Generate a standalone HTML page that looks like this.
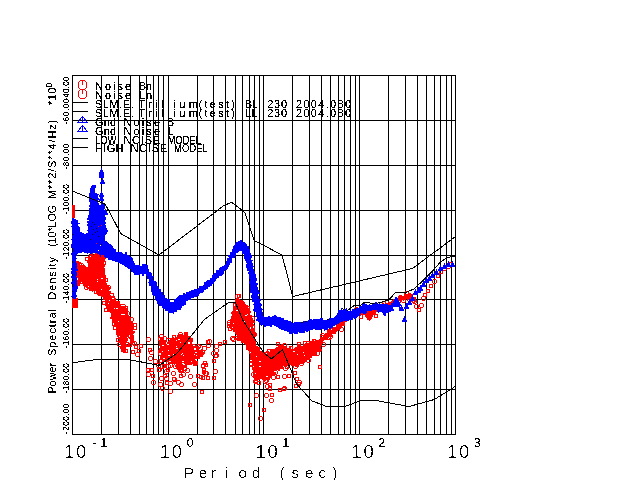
<!DOCTYPE html>
<html><head><meta charset="utf-8"><title>Power Spectral Density</title>
<style>html,body{margin:0;padding:0;background:#fff;overflow:hidden}svg{display:block}text{font-family:"Liberation Sans",sans-serif;fill:#000}</style></head><body>
<svg width="640" height="480" viewBox="0 0 640 480">
<rect width="640" height="480" fill="#fff"/>
<g stroke="#000" stroke-width="1" shape-rendering="crispEdges" fill="none">
<line x1="72.5" y1="75.5" x2="72.5" y2="434.5"/>
<line x1="101.5" y1="75.5" x2="101.5" y2="434.5"/>
<line x1="118.5" y1="75.5" x2="118.5" y2="434.5"/>
<line x1="130.5" y1="75.5" x2="130.5" y2="434.5"/>
<line x1="139.5" y1="75.5" x2="139.5" y2="434.5"/>
<line x1="146.5" y1="75.5" x2="146.5" y2="434.5"/>
<line x1="153.5" y1="75.5" x2="153.5" y2="434.5"/>
<line x1="158.5" y1="75.5" x2="158.5" y2="434.5"/>
<line x1="163.5" y1="75.5" x2="163.5" y2="434.5"/>
<line x1="168.5" y1="75.5" x2="168.5" y2="434.5"/>
<line x1="197.5" y1="75.5" x2="197.5" y2="434.5"/>
<line x1="213.5" y1="75.5" x2="213.5" y2="434.5"/>
<line x1="225.5" y1="75.5" x2="225.5" y2="434.5"/>
<line x1="235.5" y1="75.5" x2="235.5" y2="434.5"/>
<line x1="242.5" y1="75.5" x2="242.5" y2="434.5"/>
<line x1="249.5" y1="75.5" x2="249.5" y2="434.5"/>
<line x1="254.5" y1="75.5" x2="254.5" y2="434.5"/>
<line x1="259.5" y1="75.5" x2="259.5" y2="434.5"/>
<line x1="263.5" y1="75.5" x2="263.5" y2="434.5"/>
<line x1="292.5" y1="75.5" x2="292.5" y2="434.5"/>
<line x1="309.5" y1="75.5" x2="309.5" y2="434.5"/>
<line x1="321.5" y1="75.5" x2="321.5" y2="434.5"/>
<line x1="330.5" y1="75.5" x2="330.5" y2="434.5"/>
<line x1="338.5" y1="75.5" x2="338.5" y2="434.5"/>
<line x1="344.5" y1="75.5" x2="344.5" y2="434.5"/>
<line x1="350.5" y1="75.5" x2="350.5" y2="434.5"/>
<line x1="355.5" y1="75.5" x2="355.5" y2="434.5"/>
<line x1="359.5" y1="75.5" x2="359.5" y2="434.5"/>
<line x1="388.5" y1="75.5" x2="388.5" y2="434.5"/>
<line x1="405.5" y1="75.5" x2="405.5" y2="434.5"/>
<line x1="417.5" y1="75.5" x2="417.5" y2="434.5"/>
<line x1="426.5" y1="75.5" x2="426.5" y2="434.5"/>
<line x1="434.5" y1="75.5" x2="434.5" y2="434.5"/>
<line x1="440.5" y1="75.5" x2="440.5" y2="434.5"/>
<line x1="446.5" y1="75.5" x2="446.5" y2="434.5"/>
<line x1="451.5" y1="75.5" x2="451.5" y2="434.5"/>
<line x1="455.5" y1="75.5" x2="455.5" y2="434.5"/>
<line x1="72.0" y1="434.5" x2="456.0" y2="434.5"/>
<line x1="72.0" y1="389.5" x2="456.0" y2="389.5"/>
<line x1="72.0" y1="344.5" x2="456.0" y2="344.5"/>
<line x1="72.0" y1="299.5" x2="456.0" y2="299.5"/>
<line x1="72.0" y1="255.5" x2="456.0" y2="255.5"/>
<line x1="72.0" y1="210.5" x2="456.0" y2="210.5"/>
<line x1="72.0" y1="165.5" x2="456.0" y2="165.5"/>
<line x1="72.0" y1="120.5" x2="456.0" y2="120.5"/>
<line x1="72.0" y1="75.5" x2="456.0" y2="75.5"/>
</g>
<g shape-rendering="crispEdges">
<polyline points="300,323 310,321 318,320 323.8,321 330,319 337.5,317 342,308.8 347.5,310.6 355,305 360,305.6 365,302 375,304 388.8,300 395,293 406,292.5 413.8,289 422.5,281 432.5,271 440,262.5 445,258.8 450,257 455.5,256" fill="none" stroke="#000" stroke-width="1"/>
<polygon points="72,205 75,205 75,218 72,218" fill="#f00"/>
<polygon points="72,298 77.5,298 77.5,308 72,308" fill="#f00"/>
<polygon points="76,263 78,263 78,262 81,262 81,263 81,263 81,264 82,264 82,266 84,266 84,266 85,266 85,267 87,267 87,267 88,267 88,265 88,265 88,263 87,263 87,261 88,261 88,260 89,260 89,258 88,258 88,256 89,256 89,254 90,254 90,251 92,251 92,252 94,252 94,252 95,252 95,252 97,252 97,252 99,252 99,251 100,251 100,251 102,251 102,252 103,252 103,252 104,252 104,254 105,254 105,255 104,255 104,257 106,257 106,259 105,259 105,260 105,260 105,262 104,262 104,264 106,264 106,265 105,265 105,267 104,267 104,268 105,268 105,270 105,270 105,272 105,272 105,273 105,273 105,275 106,275 106,277 106,277 106,279 106,279 106,281 106,281 106,283 107,283 107,284 107,284 107,286 109,286 109,287 110,287 110,289 109,289 109,291 111,291 111,292 111,292 111,294 111,294 111,296 114,296 114,296 115,296 115,298 116,298 116,299 116,299 116,301 118,301 118,301 120,301 120,302 120,302 120,304 122,304 122,305 123,305 123,306 124,306 124,307 125,307 125,308 127,308 127,309 128,309 128,310 128,310 128,312 128,312 128,314 128,314 128,316 130,316 130,317 131,317 131,319 131,319 131,322 133,322 133,323 133,323 133,325 133,325 133,326 133,326 133,328 133,328 133,330 133,330 133,331 135,331 135,333 134,333 134,335 134,335 134,337 134,337 134,338 134,338 134,340 134,340 134,342 134,342 134,343 131,343 131,344 130,344 130,342 130,342 130,341 130,341 130,339 129,339 129,337 130,337 130,336 130,336 130,335 128,335 128,334 128,334 128,336 128,336 128,337 127,337 127,339 128,339 128,341 127,341 127,342 126,342 126,344 127,344 127,345 128,345 128,347 126,347 126,349 126,349 126,350 126,350 126,353 125,353 125,353 123,353 123,352 122,352 122,352 121,352 121,350 121,350 121,349 120,349 120,347 121,347 121,345 120,345 120,343 119,343 119,342 120,342 120,340 119,340 119,338 118,338 118,337 117,337 117,335 116,335 116,334 116,334 116,332 116,332 116,330 116,330 116,329 116,329 116,327 115,327 115,325 114,325 114,323 114,323 114,322 112,322 112,320 112,320 112,319 110,319 110,317 111,317 111,315 111,315 111,313 110,313 110,312 108,312 108,311 108,311 108,309 107,309 107,308 106,308 106,306 105,306 105,304 106,304 106,302 105,302 105,300 102,300 102,300 103,300 103,297 101,297 101,296 100,296 100,296 98,296 98,294 97,294 97,293 96,293 96,291 93,291 93,292 92,292 92,291 90,291 90,291 89,291 89,289 87,289 87,288 86,288 86,287 84,287 84,286 83,286 83,284 81,284 81,284 79,284 79,285 77,285 77,284 77,284 77,282 77,282 77,280 78,280 78,278 76,278 76,277 76,277 76,275 76,275 76,273 77,273 77,272 75,272 75,270 75,270 75,268 75,268 75,266 77,266 77,265" fill="#f00"/>
<polygon points="158,345 159,345 159,343 159,343 159,341 159,341 159,340 160,340 160,337 163,337 163,337 164,337 164,338 164,338 164,341 166,341 166,342 166,342 166,344 167,344 167,343 168,343 168,341 169,341 169,340 170,340 170,338 172,338 172,337 174,337 174,338 176,338 176,337 177,337 177,335 179,335 179,334 181,334 181,334 183,334 183,335 184,335 184,333 185,333 185,333 187,333 187,335 188,335 188,336 189,336 189,339 191,339 191,339 193,339 193,340 192,340 192,342 192,342 192,344 193,344 193,346 195,346 195,345 197,345 197,346 197,346 197,346 198,346 198,347 200,347 200,347 200,347 200,349 202,349 202,350 203,350 203,352 204,352 204,354 203,354 203,357 201,357 201,357 200,357 200,358 198,358 198,358 195,358 195,358 196,358 196,360 196,360 196,362 197,362 197,363 196,363 196,366 195,366 195,363 193,363 193,364 192,364 192,363 189,363 189,362 188,362 188,363 188,363 188,365 187,365 187,367 186,367 186,367 184,367 184,368 183,368 183,370 181,370 181,370 179,370 179,372 180,372 180,370 178,370 178,369 177,369 177,367 176,367 176,366 175,366 175,364 172,364 172,365 172,365 172,363 170,363 170,363 168,363 168,362 166,362 166,362 164,362 164,362 163,362 163,360 161,360 161,360 160,360 160,358 160,358 160,356 159,356 159,355 161,355 161,353 159,353 159,352 158,352 158,350 159,350 159,348 160,348 160,347" fill="#f00"/>
<polygon points="235,299 237,299 237,298 239,298 239,299 240,299 240,300 242,300 242,300 243,300 243,301 244,301 244,302 245,302 245,304 246,304 246,305 248,305 248,306 248,306 248,308 249,308 249,309 250,309 250,311 251,311 251,313 250,313 250,315 252,315 252,316 252,316 252,318 253,318 253,319 253,319 253,321 255,321 255,323 253,323 253,324 254,324 254,326 253,326 253,328 255,328 255,329 255,329 255,331 255,331 255,333 256,333 256,334 256,334 256,336 255,336 255,337 254,337 254,339 256,339 256,341 256,341 256,342 256,342 256,344 256,344 256,346 258,346 258,346 258,346 258,348 259,348 259,349 260,349 260,351 262,351 262,351 263,351 263,353 264,353 264,354 266,354 266,355 268,355 268,353 269,353 269,352 271,352 271,351 271,351 271,349 274,349 274,349 275,349 275,348 276,348 276,347 278,347 278,346 279,346 279,345 281,345 281,344 283,344 283,344 284,344 284,346 286,346 286,347 287,347 287,348 289,348 289,347 291,347 291,349 292,349 292,349 294,349 294,348 295,348 295,347 297,347 297,346 297,346 297,344 299,344 299,344 301,344 301,345 303,345 303,344 305,344 305,343 307,343 307,343 309,343 309,343 309,343 309,341 311,341 311,341 313,341 313,339 314,339 314,341 316,341 316,340 317,340 317,340 319,340 319,339 320,339 320,338 322,338 322,337 323,337 323,335 324,335 324,334 325,334 325,333 327,333 327,333 328,333 328,330 331,330 331,331 332,331 332,329 333,329 333,327 335,327 335,327 336,327 336,325 337,325 337,324 339,324 339,323 339,323 339,321 341,321 341,320 343,320 343,320 343,320 343,318 345,318 345,318 347,318 347,317 347,317 347,315 348,315 348,313 350,313 350,313 352,313 352,312 353,312 353,311 354,311 354,309 355,309 355,310 357,310 357,310 359,310 359,309 360,309 360,309 362,309 362,309 363,309 363,309 365,309 365,310 367,310 367,311 369,311 369,311 370,311 370,310 372,310 372,309 373,309 373,309 375,309 375,309 376,309 376,307 378,307 378,307 379,307 379,304 381,304 381,306 382,306 382,303 384,303 384,304 386,304 386,304 387,304 387,304 389,304 389,302 391,302 391,302 392,302 392,301 393,301 393,299 395,299 395,299 396,299 396,298 398,298 398,298 399,298 399,296 401,296 401,296 403,296 403,296 404,296 404,294 406,294 406,294 407,294 407,294 409,294 409,294 412,294 412,294 413,294 413,296 413,296 413,298 415,298 415,299 415,299 415,301 415,301 415,304 414,304 414,301 413,301 413,301 411,301 411,300 409,300 409,300 408,300 408,299 406,299 406,300 404,300 404,301 403,301 403,300 401,300 401,301 399,301 399,301 398,301 398,302 397,302 397,303 395,303 395,304 393,304 393,304 392,304 392,306 390,306 390,307 389,307 389,309 387,309 387,308 386,308 386,309 384,309 384,308 383,308 383,309 381,309 381,309 379,309 379,310 378,310 378,311 376,311 376,312 376,312 376,314 374,314 374,315 373,315 373,317 372,317 372,319 370,319 370,321 369,321 369,319 368,319 368,318 366,318 366,317 365,317 365,315 363,315 363,316 362,316 362,315 360,315 360,315 359,315 359,316 357,316 357,315 355,315 355,316 353,316 353,314 353,314 353,317 351,317 351,318 350,318 350,319 348,319 348,320 347,320 347,321 346,321 346,322 345,322 345,324 345,324 345,326 342,326 342,326 342,326 342,328 341,328 341,329 340,329 340,330 338,330 338,331 337,331 337,332 336,332 336,334 334,334 334,334 332,334 332,335 332,335 332,337 330,337 330,337 328,337 328,338 327,338 327,340 325,340 325,340 324,340 324,341 323,341 323,343 323,343 323,344 322,344 322,346 321,346 321,347 321,347 321,349 322,349 322,351 321,351 321,352 319,352 319,352 317,352 317,352 315,352 315,353 316,353 316,356 314,356 314,356 312,356 312,358 311,358 311,358 310,358 310,360 307,360 307,360 307,360 307,362 305,362 305,363 304,363 304,364 302,364 302,364 300,364 300,365 299,365 299,367 297,367 297,367 295,367 295,366 292,366 292,366 291,366 291,365 289,365 289,367 288,367 288,365 286,365 286,366 284,366 284,366 283,366 283,369 282,369 282,369 280,369 280,371 278,371 278,370 276,370 276,371 274,371 274,372 276,372 276,375 274,375 274,376 272,376 272,377 271,377 271,378 270,378 270,380 267,380 267,379 266,379 266,381 265,381 265,380 263,380 263,379 262,379 262,377 261,377 261,379 260,379 260,380 258,380 258,380 257,380 257,381 256,381 256,381 254,381 254,379 254,379 254,378 253,378 253,376 253,376 253,374 253,374 253,372 253,372 253,370 252,370 252,369 252,369 252,367 250,367 250,365 252,365 252,363 250,363 250,361 252,361 252,360 250,360 250,358 250,358 250,356 250,356 250,354 251,354 251,352 250,352 250,351 248,351 248,350 247,350 247,349 246,349 246,347 246,347 246,345 245,345 245,344 244,344 244,343 242,343 242,343 241,343 241,341 238,341 238,341 237,341 237,339 236,339 236,338 237,338 237,335 236,335 236,334 235,334 235,332 233,332 233,332 233,332 233,330 231,330 231,328 230,328 230,327 229,327 229,325 231,325 231,323 230,323 230,321 230,321 230,319 231,319 231,318 231,318 231,316 232,316 232,314 231,314 231,312 232,312 232,311 233,311 233,310 233,310 233,308 233,308 233,306 235,306 235,304 234,304 234,302 235,302 235,301" fill="#f00"/>
<path d="M76.5 262.5h3v3h-3zM79.5 265.5a2 2 0 1 0 4 0a2 2 0 1 0 -4 0zM81.5 267.5a2 2 0 1 0 4 0a2 2 0 1 0 -4 0zM85.5 257.5h3v3h-3zM88.5 258.5a2 2 0 1 0 4 0a2 2 0 1 0 -4 0zM90.5 253.5a2 2 0 1 0 4 0a2 2 0 1 0 -4 0zM100.5 251.5a2 2 0 1 0 4 0a2 2 0 1 0 -4 0zM102.5 249.5h3v3h-3zM102.5 261.5h3v3h-3zM104.5 278.5h3v3h-3zM106.5 287.5a2 2 0 1 0 4 0a2 2 0 1 0 -4 0zM110.5 293.5h3v3h-3zM121.5 306.5a2 2 0 1 0 4 0a2 2 0 1 0 -4 0zM124.5 306.5h3v3h-3zM125.5 313.5a2 2 0 1 0 4 0a2 2 0 1 0 -4 0zM129.5 319.5a2 2 0 1 0 4 0a2 2 0 1 0 -4 0zM133.5 323.5h3v3h-3zM133.5 326.5h3v3h-3zM132.5 343.5a2 2 0 1 0 4 0a2 2 0 1 0 -4 0zM131.5 341.5h3v3h-3zM128.5 343.5h3v3h-3zM125.5 333.5a2 2 0 1 0 4 0a2 2 0 1 0 -4 0zM124.5 336.5a2 2 0 1 0 4 0a2 2 0 1 0 -4 0zM125.5 344.5a2 2 0 1 0 4 0a2 2 0 1 0 -4 0zM124.5 349.5h3v3h-3zM117.5 344.5a2 2 0 1 0 4 0a2 2 0 1 0 -4 0zM116.5 338.5h3v3h-3zM113.5 326.5h3v3h-3zM112.5 322.5h3v3h-3zM104.5 308.5h3v3h-3zM102.5 301.5h3v3h-3zM97.5 291.5h3v3h-3zM94.5 290.5h3v3h-3zM84.5 287.5a2 2 0 1 0 4 0a2 2 0 1 0 -4 0zM76.5 282.5h3v3h-3zM73.5 273.5h3v3h-3zM75.5 263.5a2 2 0 1 0 4 0a2 2 0 1 0 -4 0zM158.5 337.5h3v3h-3zM159.5 336.5a2 2 0 1 0 4 0a2 2 0 1 0 -4 0zM162.5 338.5a2 2 0 1 0 4 0a2 2 0 1 0 -4 0zM166.5 340.5a2 2 0 1 0 4 0a2 2 0 1 0 -4 0zM172.5 335.5h3v3h-3zM178.5 334.5a2 2 0 1 0 4 0a2 2 0 1 0 -4 0zM184.5 332.5h3v3h-3zM187.5 336.5h3v3h-3zM189.5 338.5h3v3h-3zM191.5 346.5a2 2 0 1 0 4 0a2 2 0 1 0 -4 0zM196.5 346.5a2 2 0 1 0 4 0a2 2 0 1 0 -4 0zM198.5 347.5a2 2 0 1 0 4 0a2 2 0 1 0 -4 0zM200.5 352.5a2 2 0 1 0 4 0a2 2 0 1 0 -4 0zM196.5 355.5h3v3h-3zM194.5 361.5h3v3h-3zM188.5 361.5h3v3h-3zM188.5 360.5h3v3h-3zM183.5 367.5h3v3h-3zM177.5 366.5h3v3h-3zM173.5 366.5a2 2 0 1 0 4 0a2 2 0 1 0 -4 0zM166.5 361.5h3v3h-3zM159.5 359.5h3v3h-3zM158.5 353.5a2 2 0 1 0 4 0a2 2 0 1 0 -4 0zM235.5 296.5a2 2 0 1 0 4 0a2 2 0 1 0 -4 0zM237.5 294.5h3v3h-3zM246.5 306.5h3v3h-3zM250.5 318.5a2 2 0 1 0 4 0a2 2 0 1 0 -4 0zM251.5 325.5h3v3h-3zM252.5 334.5a2 2 0 1 0 4 0a2 2 0 1 0 -4 0zM256.5 347.5h3v3h-3zM263.5 354.5a2 2 0 1 0 4 0a2 2 0 1 0 -4 0zM265.5 353.5a2 2 0 1 0 4 0a2 2 0 1 0 -4 0zM267.5 349.5h3v3h-3zM276.5 342.5h3v3h-3zM282.5 345.5a2 2 0 1 0 4 0a2 2 0 1 0 -4 0zM289.5 346.5h3v3h-3zM297.5 342.5h3v3h-3zM303.5 341.5h3v3h-3zM306.5 343.5a2 2 0 1 0 4 0a2 2 0 1 0 -4 0zM312.5 339.5h3v3h-3zM320.5 337.5a2 2 0 1 0 4 0a2 2 0 1 0 -4 0zM320.5 335.5a2 2 0 1 0 4 0a2 2 0 1 0 -4 0zM327.5 331.5a2 2 0 1 0 4 0a2 2 0 1 0 -4 0zM330.5 330.5a2 2 0 1 0 4 0a2 2 0 1 0 -4 0zM343.5 319.5a2 2 0 1 0 4 0a2 2 0 1 0 -4 0zM347.5 314.5h3v3h-3zM354.5 309.5a2 2 0 1 0 4 0a2 2 0 1 0 -4 0zM367.5 311.5a2 2 0 1 0 4 0a2 2 0 1 0 -4 0zM370.5 310.5a2 2 0 1 0 4 0a2 2 0 1 0 -4 0zM379.5 304.5a2 2 0 1 0 4 0a2 2 0 1 0 -4 0zM385.5 300.5h3v3h-3zM391.5 302.5a2 2 0 1 0 4 0a2 2 0 1 0 -4 0zM398.5 297.5a2 2 0 1 0 4 0a2 2 0 1 0 -4 0zM404.5 293.5a2 2 0 1 0 4 0a2 2 0 1 0 -4 0zM407.5 295.5a2 2 0 1 0 4 0a2 2 0 1 0 -4 0zM412.5 297.5h3v3h-3zM412.5 301.5a2 2 0 1 0 4 0a2 2 0 1 0 -4 0zM411.5 300.5a2 2 0 1 0 4 0a2 2 0 1 0 -4 0zM407.5 299.5a2 2 0 1 0 4 0a2 2 0 1 0 -4 0zM401.5 300.5a2 2 0 1 0 4 0a2 2 0 1 0 -4 0zM396.5 301.5a2 2 0 1 0 4 0a2 2 0 1 0 -4 0zM387.5 306.5h3v3h-3zM382.5 309.5a2 2 0 1 0 4 0a2 2 0 1 0 -4 0zM376.5 308.5h3v3h-3zM374.5 314.5h3v3h-3zM367.5 316.5h3v3h-3zM359.5 315.5h3v3h-3zM347.5 316.5h3v3h-3zM339.5 329.5a2 2 0 1 0 4 0a2 2 0 1 0 -4 0zM328.5 336.5a2 2 0 1 0 4 0a2 2 0 1 0 -4 0zM327.5 336.5h3v3h-3zM321.5 344.5a2 2 0 1 0 4 0a2 2 0 1 0 -4 0zM315.5 353.5a2 2 0 1 0 4 0a2 2 0 1 0 -4 0zM313.5 352.5h3v3h-3zM306.5 360.5a2 2 0 1 0 4 0a2 2 0 1 0 -4 0zM299.5 363.5a2 2 0 1 0 4 0a2 2 0 1 0 -4 0zM293.5 366.5a2 2 0 1 0 4 0a2 2 0 1 0 -4 0zM285.5 365.5h3v3h-3zM283.5 368.5a2 2 0 1 0 4 0a2 2 0 1 0 -4 0zM273.5 372.5a2 2 0 1 0 4 0a2 2 0 1 0 -4 0zM271.5 377.5a2 2 0 1 0 4 0a2 2 0 1 0 -4 0zM264.5 380.5a2 2 0 1 0 4 0a2 2 0 1 0 -4 0zM261.5 377.5a2 2 0 1 0 4 0a2 2 0 1 0 -4 0zM254.5 379.5h3v3h-3zM253.5 381.5a2 2 0 1 0 4 0a2 2 0 1 0 -4 0zM251.5 374.5a2 2 0 1 0 4 0a2 2 0 1 0 -4 0zM249.5 350.5h3v3h-3zM246.5 346.5h3v3h-3zM237.5 337.5h3v3h-3zM234.5 336.5h3v3h-3zM230.5 325.5h3v3h-3zM227.5 322.5h3v3h-3zM233.5 303.5h3v3h-3zM233.5 305.5a2 2 0 1 0 4 0a2 2 0 1 0 -4 0zM160.5 388.5a2 2 0 1 0 4 0a2 2 0 1 0 -4 0zM168.5 391.5a2 2 0 1 0 4 0a2 2 0 1 0 -4 0zM200.5 390.5h3v3h-3zM179.5 384.5a2 2 0 1 0 4 0a2 2 0 1 0 -4 0zM192.5 384.5a2 2 0 1 0 4 0a2 2 0 1 0 -4 0zM176.5 382.5a2 2 0 1 0 4 0a2 2 0 1 0 -4 0zM248.5 403.5h3v3h-3zM262.5 408.5h3v3h-3zM258.5 418.5a2 2 0 1 0 4 0a2 2 0 1 0 -4 0zM269.5 400.5a2 2 0 1 0 4 0a2 2 0 1 0 -4 0zM264.5 395.5a2 2 0 1 0 4 0a2 2 0 1 0 -4 0zM254.5 395.5a2 2 0 1 0 4 0a2 2 0 1 0 -4 0zM270.5 393.5h3v3h-3zM282.5 388.5a2 2 0 1 0 4 0a2 2 0 1 0 -4 0zM318.5 365.5h3v3h-3zM293.5 371.5h3v3h-3zM282.5 376.5a2 2 0 1 0 4 0a2 2 0 1 0 -4 0zM297.5 382.5a2 2 0 1 0 4 0a2 2 0 1 0 -4 0zM282.5 388.5a2 2 0 1 0 4 0a2 2 0 1 0 -4 0zM414.5 306.5a2 2 0 1 0 4 0a2 2 0 1 0 -4 0zM419.5 305.5a2 2 0 1 0 4 0a2 2 0 1 0 -4 0zM417.5 308.5h3v3h-3zM421.5 298.5a2 2 0 1 0 4 0a2 2 0 1 0 -4 0zM423.5 293.5h3v3h-3zM426.5 289.5h3v3h-3zM429.5 284.5h3v3h-3zM432.5 281.5a2 2 0 1 0 4 0a2 2 0 1 0 -4 0zM436.5 274.5h3v3h-3zM439.5 270.5h3v3h-3zM442.5 268.5a2 2 0 1 0 4 0a2 2 0 1 0 -4 0zM446.5 266.5a2 2 0 1 0 4 0a2 2 0 1 0 -4 0zM449.5 262.5h3v3h-3zM134.5 345.5h3v3h-3zM137.5 349.5h3v3h-3zM139.5 344.5h3v3h-3zM131.5 350.5h3v3h-3zM135.5 354.5a2 2 0 1 0 4 0a2 2 0 1 0 -4 0zM156.5 365.5a2 2 0 1 0 4 0a2 2 0 1 0 -4 0zM150.5 368.5h3v3h-3zM153.5 361.5a2 2 0 1 0 4 0a2 2 0 1 0 -4 0zM146.5 368.5h3v3h-3zM151.5 374.5h3v3h-3zM148.5 348.5h3v3h-3zM146.5 374.5a2 2 0 1 0 4 0a2 2 0 1 0 -4 0zM149.5 352.5a2 2 0 1 0 4 0a2 2 0 1 0 -4 0zM146.5 339.5a2 2 0 1 0 4 0a2 2 0 1 0 -4 0zM148.5 358.5a2 2 0 1 0 4 0a2 2 0 1 0 -4 0zM214.5 354.5h3v3h-3zM203.5 373.5a2 2 0 1 0 4 0a2 2 0 1 0 -4 0zM202.5 368.5h3v3h-3zM206.5 345.5a2 2 0 1 0 4 0a2 2 0 1 0 -4 0zM214.5 346.5a2 2 0 1 0 4 0a2 2 0 1 0 -4 0zM202.5 370.5h3v3h-3zM201.5 364.5h3v3h-3zM213.5 371.5a2 2 0 1 0 4 0a2 2 0 1 0 -4 0zM201.5 365.5a2 2 0 1 0 4 0a2 2 0 1 0 -4 0zM206.5 340.5h3v3h-3zM204.5 363.5h3v3h-3zM202.5 348.5a2 2 0 1 0 4 0a2 2 0 1 0 -4 0zM211.5 353.5a2 2 0 1 0 4 0a2 2 0 1 0 -4 0zM212.5 359.5h3v3h-3zM204.5 373.5a2 2 0 1 0 4 0a2 2 0 1 0 -4 0zM203.5 361.5h3v3h-3zM214.5 355.5a2 2 0 1 0 4 0a2 2 0 1 0 -4 0zM207.5 341.5a2 2 0 1 0 4 0a2 2 0 1 0 -4 0zM168.5 365.5a2 2 0 1 0 4 0a2 2 0 1 0 -4 0zM160.5 366.5a2 2 0 1 0 4 0a2 2 0 1 0 -4 0zM166.5 366.5a2 2 0 1 0 4 0a2 2 0 1 0 -4 0zM164.5 378.5a2 2 0 1 0 4 0a2 2 0 1 0 -4 0zM157.5 369.5a2 2 0 1 0 4 0a2 2 0 1 0 -4 0zM172.5 377.5h3v3h-3zM164.5 371.5a2 2 0 1 0 4 0a2 2 0 1 0 -4 0zM171.5 373.5a2 2 0 1 0 4 0a2 2 0 1 0 -4 0zM178.5 370.5a2 2 0 1 0 4 0a2 2 0 1 0 -4 0zM185.5 370.5a2 2 0 1 0 4 0a2 2 0 1 0 -4 0zM163.5 374.5h3v3h-3zM182.5 363.5h3v3h-3zM188.5 376.5a2 2 0 1 0 4 0a2 2 0 1 0 -4 0zM166.5 368.5h3v3h-3zM180.5 368.5h3v3h-3zM181.5 374.5a2 2 0 1 0 4 0a2 2 0 1 0 -4 0zM193.5 362.5h3v3h-3zM157.5 368.5h3v3h-3zM175.5 365.5a2 2 0 1 0 4 0a2 2 0 1 0 -4 0zM159.5 378.5a2 2 0 1 0 4 0a2 2 0 1 0 -4 0zM179.5 374.5h3v3h-3zM162.5 364.5h3v3h-3zM168.5 383.5a2 2 0 1 0 4 0a2 2 0 1 0 -4 0zM165.5 381.5h3v3h-3zM201.5 376.5h3v3h-3zM158.5 384.5a2 2 0 1 0 4 0a2 2 0 1 0 -4 0zM199.5 375.5h3v3h-3zM172.5 379.5a2 2 0 1 0 4 0a2 2 0 1 0 -4 0zM151.5 382.5a2 2 0 1 0 4 0a2 2 0 1 0 -4 0zM212.5 376.5h3v3h-3zM196.5 374.5h3v3h-3zM206.5 376.5h3v3h-3zM218.5 342.5h3v3h-3zM214.5 350.5a2 2 0 1 0 4 0a2 2 0 1 0 -4 0zM223.5 340.5h3v3h-3zM276.5 375.5h3v3h-3zM295.5 377.5h3v3h-3zM297.5 382.5h3v3h-3zM268.5 383.5h3v3h-3zM265.5 386.5a2 2 0 1 0 4 0a2 2 0 1 0 -4 0zM278.5 388.5h3v3h-3zM268.5 387.5h3v3h-3zM287.5 374.5h3v3h-3zM257.5 381.5h3v3h-3zM258.5 374.5h3v3h-3zM263.5 381.5a2 2 0 1 0 4 0a2 2 0 1 0 -4 0zM282.5 387.5h3v3h-3zM267.5 373.5a2 2 0 1 0 4 0a2 2 0 1 0 -4 0zM266.5 375.5h3v3h-3zM257.5 375.5h3v3h-3zM294.5 384.5h3v3h-3zM231.5 322.5a2 2 0 1 0 4 0a2 2 0 1 0 -4 0zM231.5 339.5a2 2 0 1 0 4 0a2 2 0 1 0 -4 0zM237.5 317.5h3v3h-3zM231.5 320.5a2 2 0 1 0 4 0a2 2 0 1 0 -4 0zM231.5 339.5a2 2 0 1 0 4 0a2 2 0 1 0 -4 0zM228.5 327.5h3v3h-3zM227.5 322.5a2 2 0 1 0 4 0a2 2 0 1 0 -4 0zM227.5 324.5h3v3h-3zM233.5 322.5a2 2 0 1 0 4 0a2 2 0 1 0 -4 0zM230.5 338.5a2 2 0 1 0 4 0a2 2 0 1 0 -4 0z" fill="none" stroke="#f00" stroke-width="1"/>
<path d="M108 303h1v1h-1zM97 281h1v1h-1zM114 308h1v1h-1zM93 253h2v1h-2zM90 256h1v1h-1zM133 334h1v1h-1zM112 298h2v1h-2zM102 278h1v1h-1zM110 294h2v1h-2zM121 305h2v1h-2zM121 314h2v1h-2zM97 279h1v1h-1zM116 308h2v1h-2zM88 286h1v1h-1zM119 336h1v1h-1zM80 264h1v1h-1zM123 314h2v1h-2zM101 278h2v1h-2zM101 289h1v1h-1zM109 300h1v1h-1zM81 282h1v1h-1zM118 321h1v1h-1zM176 348h2v1h-2zM168 355h2v1h-2zM194 354h1v1h-1zM196 355h1v1h-1zM160 353h1v1h-1zM183 355h1v1h-1zM183 364h2v1h-2zM163 358h1v1h-1zM188 343h2v1h-2zM182 363h2v1h-2zM176 346h1v1h-1zM181 354h1v1h-1zM191 361h1v1h-1zM199 349h2v1h-2zM195 359h1v1h-1zM182 361h2v1h-2zM194 349h2v1h-2zM178 339h2v1h-2zM176 340h1v1h-1zM168 350h1v1h-1zM162 345h2v1h-2zM164 358h1v1h-1zM162 351h1v1h-1zM185 368h1v1h-1zM169 361h2v1h-2zM185 342h1v1h-1zM167 344h2v1h-2zM173 354h1v1h-1zM195 352h2v1h-2zM180 342h1v1h-1zM194 348h2v1h-2zM182 353h1v1h-1zM188 342h2v1h-2zM175 364h1v1h-1zM259 366h2v1h-2zM244 321h1v1h-1zM297 354h1v1h-1zM250 328h1v1h-1zM232 327h1v1h-1zM361 315h1v1h-1zM334 334h1v1h-1zM344 319h1v1h-1zM303 352h1v1h-1zM247 314h1v1h-1zM304 355h1v1h-1zM233 323h1v1h-1zM293 351h2v1h-2zM250 327h1v1h-1zM259 361h2v1h-2zM256 356h1v1h-1zM266 376h2v1h-2zM245 315h2v1h-2zM255 373h1v1h-1zM253 366h1v1h-1zM236 310h2v1h-2zM301 345h2v1h-2z" fill="#fff"/>
<polyline points="300,323 310,321 318,320 323.8,321 330,319 337.5,317 342,308.8 347.5,310.6 355,305 360,305.6 365,302 375,304 388.8,300 395,293 406,292.5 413.8,289 422.5,281 432.5,271 440,262.5 445,258.8 450,257 455.5,256" fill="none" stroke="#000" stroke-width="1"/>
<polygon points="98,249 99,249 99,248 100,248 100,246 101,246 101,245 102,245 102,244 102,244 102,242 105,242 105,241 106,241 106,239 106,239 106,241 107,241 107,242 108,242 108,243 109,243 109,244 111,244 111,245 112,245 112,246 113,246 113,248 114,248 114,249 116,249 116,250 116,250 116,252 118,252 118,252 120,252 120,252 122,252 122,253 123,253 123,254 125,254 125,252 127,252 127,254 127,254 127,255 129,255 129,256 130,256 130,257 132,257 132,258 133,258 133,259 133,259 133,261 134,261 134,263 135,263 135,265 137,265 137,265 139,265 139,265 140,265 140,266 142,266 142,264 144,264 144,264 146,264 146,265 148,265 148,267 148,267 148,269 149,269 149,270 149,270 149,272 151,272 151,273 152,273 152,274 152,274 152,276 154,276 154,277 153,277 153,280 154,280 154,281 156,281 156,282 157,282 157,284 157,284 157,286 158,286 158,287 159,287 159,289 161,289 161,290 161,290 161,292 163,292 163,293 163,293 163,295 165,295 165,296 165,296 165,298 167,298 167,299 170,299 170,299 170,299 170,302 173,302 173,302 174,302 174,301 174,301 174,299 176,299 176,298 177,298 177,297 178,297 178,296 179,296 179,295 181,295 181,295 183,295 183,293 185,293 185,294 186,294 186,292 188,292 188,292 189,292 189,291 191,291 191,290 193,290 193,290 194,290 194,289 196,289 196,289 198,289 198,290 198,290 198,288 199,288 199,286 202,286 202,286 203,286 203,285 204,285 204,283 204,283 204,282 206,282 206,281 207,281 207,280 209,280 209,280 210,280 210,278 212,278 212,278 212,278 212,275 213,275 213,274 214,274 214,273 216,273 216,272 216,272 216,270 218,270 218,270 219,270 219,268 220,268 220,267 222,267 222,266 224,266 224,265 225,265 225,264 226,264 226,263 226,263 226,261 227,261 227,260 227,260 227,258 229,258 229,257 228,257 228,255 230,255 230,254 230,254 230,252 232,252 232,251 232,251 232,249 233,249 233,248 233,248 233,246 234,246 234,245 235,245 235,243 236,243 236,242 238,242 238,241 240,241 240,240 242,240 242,242 244,242 244,242 245,242 245,243 246,243 246,244 247,244 247,246 249,246 249,247 249,247 249,249 250,249 250,250 250,250 250,251 250,251 250,253 251,253 251,255 252,255 252,256 252,256 252,258 251,258 251,260 253,260 253,261 252,261 252,263 253,263 253,264 253,264 253,266 254,266 254,267 253,267 253,269 254,269 254,271 255,271 255,272 255,272 255,274 256,274 256,276 256,276 256,278 257,278 257,279 257,279 257,281 256,281 256,283 258,283 258,285 257,285 257,287 258,287 258,288 258,288 258,290 259,290 259,292 260,292 260,294 258,294 258,296 259,296 259,297 259,297 259,299 261,299 261,301 260,301 260,303 261,303 261,304 262,304 262,306 261,306 261,308 262,308 262,309 263,309 263,310 262,310 262,312 263,312 263,314 263,314 263,316 264,316 264,317 266,317 266,317 268,317 268,316 270,316 270,317 272,317 272,316 274,316 274,315 276,315 276,316 277,316 277,317 280,317 280,317 281,317 281,318 283,318 283,318 284,318 284,320 286,320 286,320 288,320 288,321 289,321 289,321 291,321 291,322 292,322 292,323 294,323 294,322 296,322 296,322 298,322 298,322 299,322 299,322 301,322 301,323 303,323 303,321 305,321 305,322 307,322 307,321 308,321 308,320 310,320 310,319 312,319 312,320 313,320 313,319 315,319 315,319 317,319 317,319 318,319 318,319 320,319 320,318 322,318 322,318 323,318 323,320 325,320 325,320 327,320 327,320 329,320 329,318 331,318 331,318 332,318 332,318 334,318 334,317 335,317 335,316 336,316 336,315 337,315 337,313 338,313 338,312 338,312 338,310 341,310 341,310 341,310 341,308 342,308 342,310 344,310 344,309 346,309 346,308 347,308 347,311 350,311 350,309 351,309 351,311 352,311 352,309 355,309 355,310 356,310 356,308 358,308 358,308 359,308 359,306 361,306 361,306 362,306 362,304 364,304 364,303 365,303 365,304 367,304 367,305 369,305 369,304 370,304 370,305 372,305 372,304 373,304 373,304 375,304 375,302 377,302 377,304 379,304 379,303 380,303 380,304 382,304 382,304 384,304 384,304 386,304 386,304 388,304 388,305 389,305 389,305 391,305 391,305 391,305 391,303 393,303 393,302 394,302 394,301 395,301 395,299 395,299 395,297 397,297 397,298 398,298 398,300 399,300 399,301 399,301 399,303 400,303 400,304 400,304 400,306 400,306 400,309 402,309 402,310 400,310 400,309 399,309 399,307 397,307 397,307 396,307 396,305 395,305 395,304 394,304 394,305 393,305 393,307 392,307 392,308 391,308 391,310 391,310 391,312 389,312 389,313 387,313 387,313 386,313 386,316 384,316 384,315 383,315 383,313 382,313 382,312 379,312 379,313 378,313 378,312 377,312 377,310 375,310 375,310 373,310 373,310 372,310 372,311 370,311 370,311 368,311 368,311 367,311 367,313 366,313 366,314 363,314 363,313 362,313 362,313 361,313 361,314 360,314 360,316 358,316 358,317 357,317 357,318 356,318 356,319 354,319 354,318 353,318 353,320 351,320 351,320 349,320 349,321 348,321 348,321 346,321 346,321 344,321 344,321 343,321 343,322 340,322 340,321 340,321 340,323 339,323 339,324 337,324 337,325 335,325 335,326 334,326 334,326 333,326 333,328 331,328 331,329 329,329 329,328 328,328 328,330 326,330 326,330 325,330 325,331 324,331 324,329 321,329 321,330 320,330 320,330 318,330 318,330 317,330 317,330 315,330 315,329 313,329 313,330 312,330 312,330 310,330 310,331 308,331 308,332 306,332 306,331 305,331 305,333 303,333 303,333 301,333 301,333 299,333 299,332 298,332 298,334 296,334 296,334 294,334 294,333 293,333 293,334 291,334 291,334 289,334 289,334 289,334 289,332 287,332 287,331 285,331 285,331 284,331 284,330 282,330 282,330 281,330 281,329 279,329 279,328 278,328 278,327 276,327 276,326 274,326 274,325 272,325 272,327 270,327 270,326 268,326 268,326 266,326 266,327 264,327 264,325 262,325 262,326 261,326 261,325 260,325 260,323 259,323 259,322 258,322 258,321 256,321 256,319 257,319 257,317 255,317 255,316 256,316 256,314 256,314 256,312 254,312 254,311 253,311 253,309 254,309 254,307 254,307 254,305 253,305 253,304 254,304 254,302 252,302 252,300 252,300 252,298 251,298 251,297 251,297 251,295 252,295 252,293 250,293 250,291 250,291 250,289 250,289 250,288 250,288 250,286 250,286 250,284 249,284 249,282 249,282 249,281 250,281 250,279 249,279 249,277 249,277 249,276 249,276 249,274 248,274 248,272 249,272 249,271 247,271 247,269 247,269 247,268 246,268 246,266 246,266 246,264 247,264 247,263 246,263 246,261 245,261 245,259 244,259 244,258 244,258 244,256 244,256 244,254 242,254 242,253 242,253 242,251 239,251 239,250 239,250 239,252 238,252 238,253 236,253 236,254 236,254 236,256 235,256 235,258 233,258 233,258 232,258 232,260 232,260 232,263 230,263 230,263 230,263 230,265 229,265 229,267 228,267 228,269 227,269 227,270 225,270 225,271 224,271 224,274 223,274 223,275 222,275 222,276 220,276 220,276 219,276 219,278 217,278 217,279 216,279 216,281 215,281 215,282 214,282 214,284 213,284 213,284 212,284 212,286 210,286 210,287 209,287 209,287 208,287 208,289 206,289 206,290 205,290 205,290 204,290 204,292 203,292 203,293 201,293 201,293 200,293 200,294 199,294 199,296 197,296 197,297 196,297 196,297 194,297 194,298 192,298 192,298 191,298 191,300 189,300 189,300 188,300 188,301 186,301 186,302 186,302 186,305 184,305 184,306 182,306 182,306 182,306 182,308 181,308 181,310 179,310 179,310 177,310 177,312 176,312 176,312 174,312 174,314 173,314 173,313 171,313 171,313 169,313 169,313 168,313 168,311 166,311 166,311 165,311 165,309 163,309 163,308 162,308 162,306 160,306 160,306 159,306 159,304 157,304 157,303 157,303 157,301 156,301 156,300 155,300 155,298 155,298 155,296 153,296 153,295 152,295 152,294 152,294 152,292 151,292 151,290 151,290 151,288 151,288 151,286 149,286 149,285 149,285 149,283 148,283 148,282 149,282 149,279 147,279 147,278 147,278 147,276 146,276 146,274 144,274 144,276 142,276 142,274 140,274 140,275 139,275 139,275 137,275 137,275 136,275 136,275 134,275 134,273 133,273 133,272 131,272 131,271 131,271 131,269 129,269 129,269 128,269 128,268 127,268 127,267 125,267 125,266 124,266 124,265 122,265 122,264 120,264 120,263 118,263 118,262 117,262 117,262 115,262 115,261 114,261 114,261 112,261 112,260 111,260 111,260 109,260 109,260 108,260 108,258 106,258 106,258 105,258 105,257 104,257 104,255 101,255 101,257 100,257 100,255 98,255 98,255 99,255 99,253 99,253 99,251" fill="#00f"/>
<polygon points="72,218 74,218 74,219 76,219 76,220 78,220 78,220 78,220 78,223 80,223 80,224 78,224 78,226 79,226 79,227 80,227 80,229 80,229 80,230 80,230 80,232 82,232 82,233 84,233 84,234 86,234 86,233 88,233 88,232 90,232 90,233 92,233 92,233 93,233 93,235 95,235 95,235 97,235 97,236 98,236 98,236 98,236 98,238 98,238 98,239 98,239 98,241 99,241 99,243 99,243 99,244 99,244 99,246 100,246 100,247 99,247 99,249 98,249 98,251 99,251 99,252 99,252 99,254 97,254 97,253 95,253 95,253 93,253 93,253 92,253 92,254 90,254 90,253 88,253 88,254 87,254 87,253 85,253 85,253 84,253 84,252 82,252 82,253 80,253 80,253 78,253 78,254 77,254 77,256 76,256 76,258 77,258 77,259 76,259 76,261 76,261 76,263 77,263 77,264 77,264 77,266 77,266 77,268 77,268 77,269 78,269 78,271 76,271 76,272 77,272 77,274 77,274 77,276 76,276 76,277 77,277 77,279 77,279 77,281 77,281 77,282 77,282 77,284 77,284 77,286 78,286 78,287 78,287 78,289 77,289 77,291 77,291 77,292 76,292 76,294 76,294 76,295 77,295 77,297 76,297 76,299 74,299 74,299 72,299 72,299 73,299 73,297 71,297 71,296 72,296 72,294 72,294 72,292 73,292 73,291 72,291 72,289 72,289 72,287 73,287 73,286 73,286 73,284 71,284 71,282 72,282 72,281 73,281 73,279 72,279 72,278 71,278 71,276 73,276 73,274 71,274 71,273 71,273 71,271 72,271 72,270 71,270 71,268 72,268 72,266 72,266 72,265 72,265 72,263 73,263 73,261 72,261 72,260 72,260 72,258 72,258 72,256 72,256 72,255 71,255 71,253 72,253 72,252 73,252 73,250 73,250 73,248 71,248 71,247 71,247 71,245 71,245 71,244 72,244 72,242 72,242 72,240 71,240 71,239 72,239 72,237 72,237 72,235 73,235 73,234 72,234 72,232 72,232 72,230 72,230 72,229 72,229 72,227 71,227 71,226 72,226 72,224 71,224 71,222 71,222 71,221 72,221 72,219" fill="#00f"/>
<polygon points="88,236 88,236 88,235 88,235 88,233 88,233 88,231 87,231 87,230 88,230 88,227 88,227 88,226 87,226 87,224 88,224 88,223 87,223 87,221 89,221 89,220 87,220 87,218 88,218 88,216 88,216 88,215 89,215 89,213 89,213 89,212 89,212 89,210 89,210 89,208 90,208 90,207 89,207 89,205 90,205 90,203 90,203 90,202 89,202 89,200 89,200 89,198 89,198 89,197 89,197 89,195 89,195 89,193 90,193 90,191 90,191 90,190 90,190 90,188 91,188 91,186 92,186 92,185 94,185 94,183 94,183 94,185 96,185 96,186 96,186 96,188 95,188 95,190 95,190 95,193 97,193 97,194 99,194 99,195 98,195 98,197 98,197 98,198 99,198 99,200 98,200 98,202 98,202 98,203 99,203 99,205 101,205 101,206 102,206 102,206 104,206 104,207 105,207 105,209 104,209 104,210 104,210 104,212 104,212 104,214 105,214 105,215 105,215 105,217 106,217 106,218 106,218 106,220 105,220 105,222 106,222 106,223 105,223 105,225 106,225 106,227 106,227 106,228 104,228 104,230 106,230 106,232 105,232 105,233 106,233 106,235 105,235 105,237 105,237 105,238 105,238 105,240 105,240 105,242 103,242 103,243 102,243 102,244 101,244 101,245 100,245 100,247 100,247 100,248 99,248 99,250 98,250 98,248 97,248 97,247 96,247 96,246 96,246 96,244 93,244 93,243 94,243 94,241 92,241 92,240 91,240 91,239 91,239 91,237" fill="#00f"/>
<path d="M99.5 173.5l2 -4l2 4zM101.5 169.5v4M99.5 175.5l2 -4l2 4zM101.5 171.5v4M99.5 177.5l2 -4l2 4zM101.5 173.5v4M100.5 183.5l2 -4l2 4zM102.5 179.5v4M99.5 196.5l2 -4l2 4zM101.5 192.5v4M99.5 200.5l2 -4l2 4zM101.5 196.5v4M100.5 206.5l2 -4l2 4zM102.5 202.5v4M99.5 209.5l2 -4l2 4zM101.5 205.5v4M99.5 211.5l2 -4l2 4zM101.5 207.5v4M99.5 214.5l2 -4l2 4zM101.5 210.5v4M99.5 217.5l2 -4l2 4zM101.5 213.5v4M98.5 210.5l2 -4l2 4zM100.5 206.5v4M101.5 223.5l2 -4l2 4zM103.5 219.5v4M102.5 233.5l2 -4l2 4zM104.5 229.5v4M99.5 226.5l2 -4l2 4zM101.5 222.5v4M103.5 214.5l2 -4l2 4zM105.5 210.5v4M101.5 226.5l2 -4l2 4zM103.5 222.5v4M103.5 231.5l2 -4l2 4zM105.5 227.5v4M99.5 225.5l2 -4l2 4zM101.5 221.5v4M98.5 220.5l2 -4l2 4zM100.5 216.5v4M100.5 211.5l2 -4l2 4zM102.5 207.5v4M100.5 217.5l2 -4l2 4zM102.5 213.5v4M100.5 216.5l2 -4l2 4zM102.5 212.5v4M99.5 219.5l2 -4l2 4zM101.5 215.5v4M100.5 213.5l2 -4l2 4zM102.5 209.5v4M389.5 310.5l2 -4l2 4zM391.5 306.5v4M391.5 306.5l2 -4l2 4zM393.5 302.5v4M393.5 302.5l2 -4l2 4zM395.5 298.5v4M396.5 305.5l2 -4l2 4zM398.5 301.5v4M399.5 310.5l2 -4l2 4zM401.5 306.5v4M402.5 321.5l2 -4l2 4zM404.5 317.5v4M404.5 308.5l2 -4l2 4zM406.5 304.5v4M407.5 304.5l2 -4l2 4zM409.5 300.5v4M410.5 300.5l2 -4l2 4zM412.5 296.5v4M413.5 294.5l2 -4l2 4zM415.5 290.5v4M416.5 292.5l2 -4l2 4zM418.5 288.5v4M418.5 290.5l2 -4l2 4zM420.5 286.5v4M421.5 286.5l2 -4l2 4zM423.5 282.5v4M424.5 282.5l2 -4l2 4zM426.5 278.5v4M427.5 280.5l2 -4l2 4zM429.5 276.5v4M430.5 277.5l2 -4l2 4zM432.5 273.5v4M434.5 274.5l2 -4l2 4zM436.5 270.5v4M438.5 270.5l2 -4l2 4zM440.5 266.5v4M442.5 268.5l2 -4l2 4zM444.5 264.5v4M446.5 266.5l2 -4l2 4zM448.5 262.5v4M450.5 266.5l2 -4l2 4zM452.5 262.5v4" fill="none" stroke="#00f" stroke-width="1"/>
<path d="M91 226h1v1h-1zM93 229h1v1h-1zM95 232h1v1h-1zM92 234h1v1h-1zM96 228h1v1h-1zM98 236h1v1h-1zM90 239h1v1h-1zM94 224h1v1h-1zM97 231h1v1h-1zM92 222h1v1h-1zM89 254h1v1h-1zM93 254h1v1h-1z" fill="#000"/>
<path d="M98 226h1v1h-1zM101 225h1v1h-1zM96 243h1v1h-1z" fill="#f00"/>
<polyline points="72.5,362.7 94.6,359.8 130.1,359.8 159,365.4 177.2,353.1 204.7,319.2 228.9,302.3 235.2,302.3 242.8,320.1 264,353.2 271.6,358.8 282.5,349.5 296.6,384 311.8,400.8 326.5,406.5 344.9,406.5 360.2,400.8 377.7,400.8 409.1,406.5 434.3,399.5 455.5,386.3" fill="none" stroke="#000" stroke-width="1"/>
<polyline points="72.5,191.1 105.3,204.3 120.9,233.7 159,255 223.8,205.6 231.7,202.3 244.8,212.4 254.2,240.4 282,255 292.8,296.5 412.4,268.5 455.5,236.6" fill="none" stroke="#000" stroke-width="1"/>
</g>
<g shape-rendering="crispEdges" fill="none" stroke-width="1">
<path d="M80.5 80.5h4l2 2v5l-2 2h-4l-2 -2v-5zM82.5 80.5v4" stroke="#f00"/>
<path d="M80.5 89.5h4l2 2v5l-2 2h-4l-2 -2v-5zM82.5 89.5v4" stroke="#f00"/>
<line x1="72" y1="102.5" x2="88" y2="102.5" stroke="#000"/>
<line x1="72" y1="111.5" x2="88" y2="111.5" stroke="#000"/>
<line x1="72" y1="138.5" x2="88" y2="138.5" stroke="#000"/>
<line x1="72" y1="147.5" x2="88" y2="147.5" stroke="#000"/>
<path d="M77.5 122.5h10l-5 -6zM82.5 115.5v7" stroke="#00f"/>
<path d="M77.5 131.5h10l-5 -6zM82.5 124.5v7" stroke="#00f"/>
</g>
<defs><filter id="px" x="0" y="0" width="640" height="480" filterUnits="userSpaceOnUse" color-interpolation-filters="sRGB"><feComponentTransfer><feFuncA type="discrete" tableValues="0 0 1 1 1"/></feComponentTransfer></filter></defs>
<defs><filter id="px3" x="0" y="0" width="640" height="480" filterUnits="userSpaceOnUse" color-interpolation-filters="sRGB"><feComponentTransfer><feFuncA type="discrete" tableValues="0 0 0 0 0 0 0 0 0 1 1 1 1 1 1 1 1 1 1 1"/></feComponentTransfer></filter></defs>
<defs><filter id="px2" x="0" y="0" width="640" height="480" filterUnits="userSpaceOnUse" color-interpolation-filters="sRGB"><feComponentTransfer><feFuncA type="discrete" tableValues="0 0 0 1 1"/></feComponentTransfer></filter></defs>
<g filter="url(#px)"><text x="95" y="90.4" font-size="11" textLength="36" lengthAdjust="spacing">Noise</text>
<text x="139" y="90.4" font-size="11" textLength="13" lengthAdjust="spacingAndGlyphs">Bn</text>
<text x="95" y="99.2" font-size="11" textLength="36" lengthAdjust="spacing">Noise</text>
<text x="139" y="99.2" font-size="11" textLength="13" lengthAdjust="spacing">Ln</text>
<text x="95" y="108.1" font-size="11" textLength="38.7" lengthAdjust="spacing">SLM.E.</text>
<text x="138.5" y="108.1" font-size="11" textLength="59.5" lengthAdjust="spacing">Trillium</text>
<text x="198.5" y="108.1" font-size="11" textLength="36.5" lengthAdjust="spacing">(test)</text>
<text x="245.2" y="108.1" font-size="11" textLength="12.5" lengthAdjust="spacingAndGlyphs">BL</text>
<text x="267.2" y="108.1" font-size="11" textLength="19.8" lengthAdjust="spacing">230</text>
<text x="296" y="108.1" font-size="11" textLength="55" lengthAdjust="spacing">2004.080</text>
<text x="95" y="116.9" font-size="11" textLength="38.7" lengthAdjust="spacing">SLM.E.</text>
<text x="138.5" y="116.9" font-size="11" textLength="59.5" lengthAdjust="spacing">Trillium</text>
<text x="198.5" y="116.9" font-size="11" textLength="36.5" lengthAdjust="spacing">(test)</text>
<text x="245.2" y="116.9" font-size="11" textLength="12.5" lengthAdjust="spacing">LL</text>
<text x="267.2" y="116.9" font-size="11" textLength="19.8" lengthAdjust="spacing">230</text>
<text x="296" y="116.9" font-size="11" textLength="55" lengthAdjust="spacing">2004.080</text>
<text x="95" y="125.8" font-size="11" textLength="21" lengthAdjust="spacing">Gnd</text>
<text x="123.6" y="125.8" font-size="11" textLength="36.4" lengthAdjust="spacing">Noise</text>
<text x="167.5" y="125.8" font-size="11" textLength="6.5" lengthAdjust="spacingAndGlyphs">B</text>
<text x="95" y="134.6" font-size="11" textLength="21" lengthAdjust="spacing">Gnd</text>
<text x="123.6" y="134.6" font-size="11" textLength="36.4" lengthAdjust="spacing">Noise</text>
<text x="167.5" y="134.6" font-size="11" textLength="6.5" lengthAdjust="spacing">L</text>
<text x="95" y="143.5" font-size="11" textLength="21.5" lengthAdjust="spacingAndGlyphs">LOW</text>
<text x="123.6" y="143.5" font-size="11" textLength="36.4" lengthAdjust="spacing">NOISE</text>
<text x="167.8" y="143.5" font-size="11" textLength="33.2" lengthAdjust="spacingAndGlyphs">MODEL</text>
<text x="95" y="152.3" font-size="11" textLength="28.5" lengthAdjust="spacing">HIGH</text>
<text x="130.6" y="152.3" font-size="11" textLength="36.4" lengthAdjust="spacing">NOISE</text>
<text x="174" y="152.3" font-size="11" textLength="33.7" lengthAdjust="spacingAndGlyphs">MODEL</text>
<text x="91.9 100.3" y="447" font-size="12.5">-1</text>
<text x="186.8" y="446.6" font-size="12">0</text>
<text x="282.6" y="446.6" font-size="12">1</text>
<text x="378.4" y="446.6" font-size="12">2</text>
<text x="474.1" y="446.6" font-size="12">3</text>
<text transform="translate(68.5,393.5) rotate(-90)" font-size="8.3" textLength="30.5" lengthAdjust="spacing">-180.00</text>
<text transform="translate(68.5,348.5) rotate(-90)" font-size="8.3" textLength="30.5" lengthAdjust="spacing">-160.00</text>
<text transform="translate(68.5,303.5) rotate(-90)" font-size="8.3" textLength="30.5" lengthAdjust="spacing">-140.00</text>
<text transform="translate(68.5,259.5) rotate(-90)" font-size="8.3" textLength="30.5" lengthAdjust="spacing">-120.00</text>
<text transform="translate(68.5,214.5) rotate(-90)" font-size="8.3" textLength="30.5" lengthAdjust="spacing">-100.00</text>
<text transform="translate(68.5,169.5) rotate(-90)" font-size="8.3" textLength="26" lengthAdjust="spacing">-80.00</text>
<text transform="translate(68.5,124.5) rotate(-90)" font-size="8.3" textLength="26" lengthAdjust="spacing">-60.00</text>
<text transform="translate(68.5,434) rotate(-90)" font-size="8.3" textLength="30.5" lengthAdjust="spacing">-200.00</text>
<text transform="translate(68.5,100.5) rotate(-90)" font-size="8.3" textLength="24" lengthAdjust="spacing">-40.00</text>
<text transform="translate(55.5,105) rotate(-90)" font-size="11" textLength="17.5" lengthAdjust="spacing">*10</text>
<text transform="translate(51.5,87.5) rotate(-90)" font-size="8.5" textLength="5" lengthAdjust="spacing">0</text></g>
<g filter="url(#px2)"><text x="64 76.1" y="457.8" font-size="18.5">10</text>
<text x="159.8 171.8" y="457.8" font-size="18.5">10</text>
<text x="255.5 267.6" y="457.8" font-size="18.5">10</text>
<text x="351.2 363.4" y="457.8" font-size="18.5">10</text>
<text x="447 459.1" y="457.8" font-size="18.5">10</text>
<text y="478" font-size="15.2" x="183.7 198.7 211 224.4 238.4 251.7 265 279.7 291.5 305.1 318.4 332.4">Period (sec)</text></g>
<g filter="url(#px3)"><text transform="translate(56,393.5) rotate(-90)" font-size="11" textLength="30.5" lengthAdjust="spacingAndGlyphs">Power</text>
<text transform="translate(56,356) rotate(-90)" font-size="11" textLength="47" lengthAdjust="spacing">Spectral</text>
<text transform="translate(56,299.7) rotate(-90)" font-size="11" textLength="42.7" lengthAdjust="spacing">Density</text>
<text transform="translate(56,247) rotate(-90)" font-size="11" textLength="42" lengthAdjust="spacingAndGlyphs">(10*LOG</text>
<text transform="translate(56,199) rotate(-90)" font-size="11" textLength="79.2" lengthAdjust="spacing">M**2/S**4/Hz)</text></g>
</svg></body></html>
